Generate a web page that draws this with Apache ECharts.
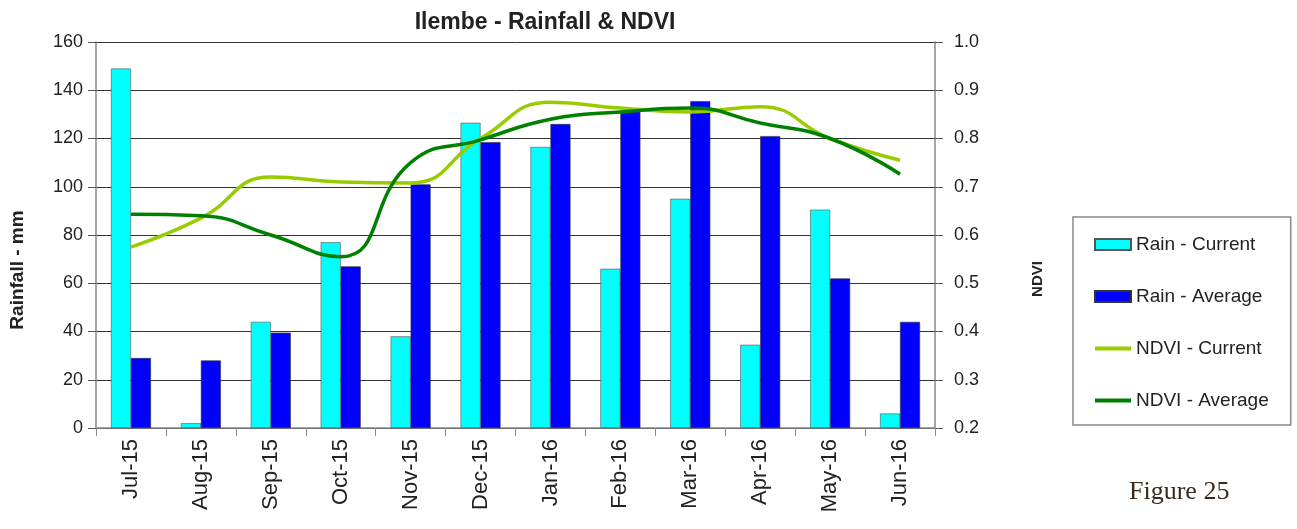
<!DOCTYPE html>
<html><head><meta charset="utf-8">
<script src="https://cdn.jsdelivr.net/npm/echarts@6/dist/echarts.min.js"></script>
<style>html,body{margin:0;padding:0;background:#fff}#c{width:1297px;height:529px}</style>
</head><body><div id="c"></div>
<script>
const categories = ['Jul-15','Aug-15','Sep-15','Oct-15','Nov-15','Dec-15','Jan-16','Feb-16','Mar-16','Apr-16','May-16','Jun-16'];
const rainCurrent = [149, 2, 44, 77, 38, 126.5, 116.5, 66, 95, 34.5, 90.5, 6];
const rainAverage = [29, 28, 39.5, 67, 101, 118.5, 126, 131.5, 135.5, 121, 62, 44];
const ndviCurrent = [0.575, 0.635, 0.72, 0.71, 0.708, 0.80, 0.875, 0.863, 0.855, 0.866, 0.80, 0.755];
const ndviAverage = [0.643, 0.64, 0.60, 0.555, 0.75, 0.797, 0.84, 0.855, 0.863, 0.832, 0.80, 0.726];
const rainTicks = {min: 0, max: 160, interval: 20};
const ndviTicks = {min: 0.2, max: 1.0, interval: 0.1};

const chart = echarts.init(document.getElementById('c'));
const font = 'Liberation Sans, Arial, sans-serif';
const lineIcon = 'path://M0,0L36,0L36,4L0,4Z';
chart.setOption({
  animation: false,
  title: {
    text: 'Ilembe - Rainfall & NDVI', left: 540, top: 6, textAlign: 'center',
    textStyle: {fontFamily: font, fontWeight: 'bold', fontSize: 23, color: '#222'}
  },
  grid: {left: 96, right: 362, top: 42, bottom: 101},
  legend: {
    orient: 'vertical', left: 1073, top: 217,
    padding: [18, 22, 15, 21], itemGap: 33, itemWidth: 36, itemHeight: 11,
    borderColor: '#888', borderWidth: 1.5,
    textStyle: {fontFamily: font, fontSize: 19, color: '#222'},
    data: [
      {name: 'Rain - Current', icon: 'rect'},
      {name: 'Rain - Average', icon: 'rect'},
      {name: 'NDVI - Current', icon: lineIcon},
      {name: 'NDVI - Average', icon: lineIcon}
    ]
  },
  xAxis: {
    type: 'category', data: categories, boundaryGap: true,
    axisLine: {lineStyle: {color: '#888', width: 1.5}},
    axisTick: {show: true, length: 8, lineStyle: {color: '#888'}},
    axisLabel: {rotate: 90, fontFamily: font, fontSize: 22, color: '#222', margin: 11}
  },
  yAxis: [
    {
      type: 'value', min: rainTicks.min, max: rainTicks.max, interval: rainTicks.interval,
      axisLine: {show: true, lineStyle: {color: '#888', width: 1.5}},
      axisTick: {show: true, length: 8, lineStyle: {color: '#555'}},
      axisLabel: {fontFamily: font, fontSize: 18, color: '#222', margin: 13},
      splitLine: {lineStyle: {color: '#333', width: 1}}
    },
    {
      type: 'value', min: ndviTicks.min, max: ndviTicks.max, interval: ndviTicks.interval,
      axisLine: {show: true, lineStyle: {color: '#888', width: 1.5}},
      axisTick: {show: true, length: 8, lineStyle: {color: '#555'}},
      axisLabel: {fontFamily: font, fontSize: 18, color: '#222', margin: 19, formatter: v => v.toFixed(1)},
      splitLine: {show: false}
    }
  ],
  series: [
    {name: 'Rain - Current', type: 'bar', data: rainCurrent, barWidth: 20, barGap: '0%',
     itemStyle: {color: '#00FFFF', borderColor: '#555', borderWidth: 0.6}},
    {name: 'Rain - Average', type: 'bar', data: rainAverage, barWidth: 20, barGap: '0%',
     itemStyle: {color: '#0000FF', borderColor: '#333', borderWidth: 0.6}},
    {name: 'NDVI - Current', type: 'line', yAxisIndex: 1, data: ndviCurrent, smooth: 0.5,
     symbol: 'none', lineStyle: {color: '#99CC00', width: 3.5}, itemStyle: {color: '#99CC00'}},
    {name: 'NDVI - Average', type: 'line', yAxisIndex: 1, data: ndviAverage, smooth: 0.5,
     symbol: 'none', lineStyle: {color: '#008000', width: 3.5}, itemStyle: {color: '#008000'}}
  ],
  graphic: [
    {type: 'text', x: 18, y: 270, rotation: Math.PI / 2,
     style: {text: 'Rainfall - mm', fontFamily: font, fontWeight: 'bold', fontSize: 19, fill: '#222', align: 'center', verticalAlign: 'middle'}},
    {type: 'text', x: 1038, y: 279, rotation: Math.PI / 2,
     style: {text: 'NDVI', fontFamily: font, fontWeight: 'bold', fontSize: 15, fill: '#222', align: 'center', verticalAlign: 'middle'}},
    {type: 'text', left: 1129, top: 479,
     style: {text: 'Figure 25', fontFamily: 'Liberation Serif, Times New Roman, serif', fontSize: 26, fill: '#3a2a1a'}}
  ]
});
</script></body></html>
